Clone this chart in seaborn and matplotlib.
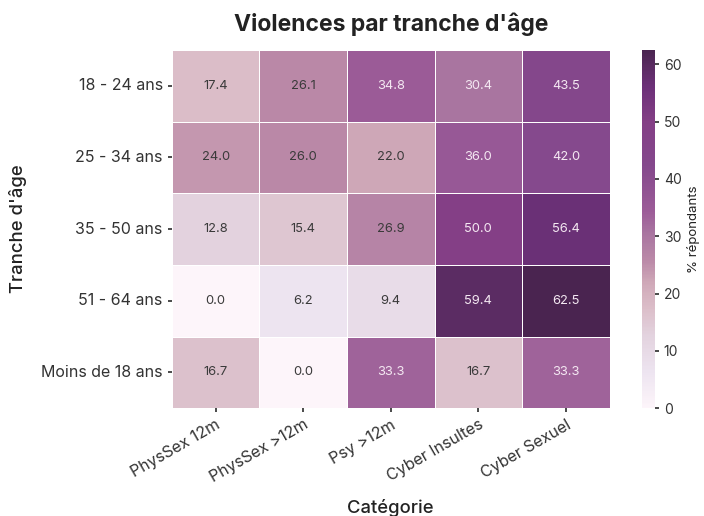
import matplotlib
matplotlib.use("Agg")
import matplotlib.pyplot as plt
import seaborn as sns
import numpy as np
import pandas as pd
from matplotlib.colors import LinearSegmentedColormap

age_groups = ["18 - 24 ans", "25 - 34 ans", "35 - 50 ans", "51 - 64 ans", "Moins de 18 ans"]
categories = ["PhysSex 12m", "PhysSex >12m", "Psy >12m", "Cyber Insultes", "Cyber Sexuel"]
physsex_12m = [17.4, 24.0, 12.8, 0.0, 16.7]
physsex_gt12m = [26.1, 26.0, 15.4, 6.2, 0.0]
psy_gt12m = [34.8, 22.0, 26.9, 9.4, 33.3]
cyber_insultes = [30.4, 36.0, 50.0, 59.4, 16.7]
cyber_sexuel = [43.5, 42.0, 56.4, 62.5, 33.3]

df = pd.DataFrame({
    categories[0]: physsex_12m,
    categories[1]: physsex_gt12m,
    categories[2]: psy_gt12m,
    categories[3]: cyber_insultes,
    categories[4]: cyber_sexuel,
}, index=age_groups)

sns.set_theme(style="white")
plt.rcParams['font.family'] = ['Inter', 'DejaVu Sans']
plt.rcParams['text.color'] = '#222222'
plt.rcParams['axes.labelcolor'] = '#222222'
plt.rcParams['xtick.color'] = '#333333'
plt.rcParams['ytick.color'] = '#333333'

cmap = LinearSegmentedColormap.from_list("vio", [
    (0.00, "#fdf5fa"),
    (0.10, "#ede4f0"),
    (0.20, "#e3d3df"),
    (0.28, "#dbbdc8"),
    (0.35, "#cfa8b8"),
    (0.41, "#bb8aa8"),
    (0.49, "#a874a0"),
    (0.55, "#9c5c98"),
    (0.68, "#84488c"),
    (0.80, "#843f86"),
    (0.90, "#6c3078"),
    (0.95, "#5c2c64"),
    (1.00, "#4a2450"),
])

fig = plt.figure(figsize=(7.04, 5.16), dpi=100)
ax = fig.add_axes([0.244, 0.209, 0.622, 0.694])
cax = fig.add_axes([0.912, 0.209, 0.018, 0.694])

sns.heatmap(df, ax=ax, cbar_ax=cax, cmap=cmap, vmin=0, vmax=df.values.max(),
            annot=True, fmt=".1f", linewidths=0.5, linecolor="white",
            annot_kws={"fontsize": 9.3},
            cbar_kws={"label": "% répondants"})

for t in ax.texts:
    v = float(t.get_text())
    t.set_color("#f4e8f2" if v > 28 else "#3a3a3a")

ax.set_title("Violences par tranche d'âge", fontsize=16.5, fontweight="bold", pad=14)
ax.set_xlabel("Catégorie", fontsize=13.3, fontweight="medium", labelpad=10)
ax.set_ylabel("Tranche d'âge", fontsize=13.3, fontweight="medium", labelpad=10)
ax.tick_params(axis="both", labelsize=11.5, length=3, left=True, bottom=True)
plt.setp(ax.get_xticklabels(), rotation=30, ha="right", rotation_mode="anchor")
plt.setp(ax.get_yticklabels(), rotation=0)
cax.tick_params(labelsize=10, length=3, right=True)
cax.yaxis.label.set_size(9.5)
cax.set_yticks([0, 10, 20, 30, 40, 50, 60])

fig.savefig("out.png", dpi=100)
